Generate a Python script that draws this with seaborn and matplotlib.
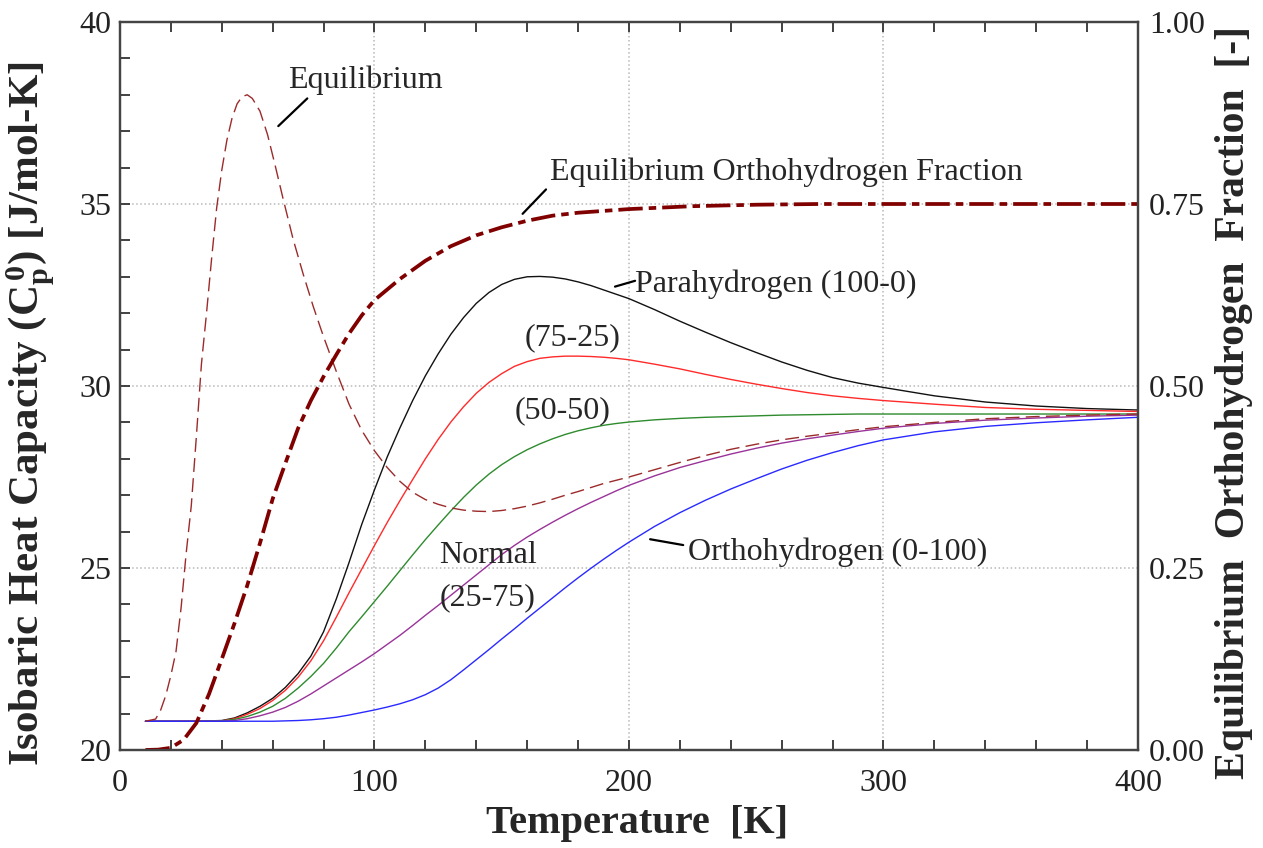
import matplotlib
matplotlib.use("Agg")
import matplotlib.pyplot as plt
import numpy as np
import pandas as pd
import seaborn as sns
from matplotlib.ticker import MultipleLocator, FormatStrFormatter

# ---------------- data ----------------
T_mix = [10, 20, 30, 40, 45, 50, 55, 60, 65, 70, 75, 80, 85, 90, 95, 100, 105, 110,
         115, 120, 125, 130, 135, 140, 145, 150, 155, 160, 165, 170, 175, 180, 185,
         190, 195, 200, 210, 220, 230, 240, 250, 260, 270, 280, 290, 300, 320, 340,
         360, 380, 400]

cp_para = [20.79, 20.79, 20.79, 20.81, 20.88, 21.02, 21.20, 21.42, 21.72, 22.10,
           22.58, 23.25, 24.15, 25.15, 26.20, 27.15, 28.05, 28.85, 29.60, 30.28,
           30.88, 31.42, 31.88, 32.27, 32.57, 32.79, 32.93, 33.00, 33.01, 32.99,
           32.94, 32.86, 32.76, 32.64, 32.52, 32.40, 32.10, 31.78, 31.48, 31.19,
           30.92, 30.66, 30.43, 30.23, 30.08, 29.96, 29.73, 29.56, 29.45, 29.38,
           29.34]
cp_7525 = [20.79, 20.79, 20.79, 20.80, 20.86, 20.98, 21.14, 21.36, 21.64, 22.00,
           22.45, 23.00, 23.65, 24.32, 24.97, 25.62, 26.25, 26.85, 27.43, 28.00,
           28.53, 29.01, 29.43, 29.80, 30.10, 30.34, 30.54, 30.67, 30.76, 30.80,
           30.82, 30.82, 30.81, 30.79, 30.76, 30.72, 30.60, 30.47, 30.32, 30.18,
           30.05, 29.93, 29.82, 29.73, 29.66, 29.60, 29.50, 29.41, 29.36, 29.33,
           29.30]
cp_5050 = [20.79, 20.79, 20.79, 20.80, 20.84, 20.92, 21.04, 21.20, 21.42, 21.70,
           22.02, 22.38, 22.80, 23.25, 23.66, 24.08, 24.50, 24.93, 25.36, 25.78,
           26.18, 26.57, 26.94, 27.28, 27.58, 27.84, 28.06, 28.25, 28.41, 28.55,
           28.67, 28.77, 28.85, 28.92, 28.97, 29.01, 29.07, 29.11, 29.14, 29.16,
           29.18, 29.20, 29.21, 29.22, 29.23, 29.23, 29.23, 29.23, 29.23, 29.23,
           29.23]
cp_normal = [20.79, 20.79, 20.79, 20.79, 20.81, 20.86, 20.94, 21.04, 21.17, 21.34,
             21.54, 21.76, 21.98, 22.20, 22.42, 22.65, 22.90, 23.15, 23.42, 23.70,
             23.97, 24.25, 24.53, 24.81, 25.09, 25.37, 25.62, 25.85, 26.06, 26.26,
             26.45, 26.63, 26.80, 26.96, 27.12, 27.27, 27.53, 27.76, 27.95, 28.13,
             28.29, 28.43, 28.55, 28.65, 28.75, 28.84, 28.97, 29.06, 29.12, 29.17,
             29.20]
cp_ortho = [20.79, 20.79, 20.79, 20.79, 20.79, 20.79, 20.79, 20.79, 20.80, 20.81,
            20.83, 20.86, 20.90, 20.96, 21.03, 21.10, 21.18, 21.27, 21.38, 21.52,
            21.70, 21.93, 22.20, 22.48, 22.76, 23.05, 23.33, 23.62, 23.90, 24.18,
            24.46, 24.73, 24.99, 25.24, 25.48, 25.71, 26.14, 26.52, 26.86, 27.17,
            27.45, 27.72, 27.96, 28.17, 28.36, 28.52, 28.74, 28.89, 28.99, 29.07,
            29.14]

T_eq = [10, 14, 16, 18, 20, 22, 24, 26, 28, 30, 32, 34, 36, 38, 40, 42, 44, 46, 48, 50,
        52, 55, 58, 61, 64, 68, 72, 76, 80, 85, 90, 95, 100, 105, 110, 115, 120, 125,
        130, 135, 140, 145, 150, 155, 160, 165, 170, 175, 180, 190, 200, 210, 220, 230,
        240, 250, 260, 270, 280, 290, 300, 320, 340, 360, 380, 400]
cp_eq = [20.79, 20.85, 21.10, 21.50, 22.05, 22.70, 23.90, 25.40, 26.70, 28.60,
         30.60, 32.00, 33.50, 34.90, 35.93, 36.75, 37.35, 37.75, 37.95, 38.00,
         37.90, 37.55, 36.90, 36.05, 35.17, 34.04, 33.07, 32.17, 31.35, 30.40,
         29.50, 28.78, 28.22, 27.76, 27.38, 27.08, 26.88, 26.75, 26.65, 26.59,
         26.56, 26.55, 26.58, 26.63, 26.70, 26.79, 26.89, 27.00, 27.10, 27.32,
         27.50, 27.70, 27.90, 28.09, 28.26, 28.40, 28.52, 28.62, 28.71, 28.80,
         28.88, 29.00, 29.10, 29.16, 29.20, 29.23]

T_frac = [10, 15, 20, 25, 30, 35, 40, 45, 50, 55, 60, 65, 70, 75, 80, 85, 90, 95, 100,
          110, 120, 130, 140, 150, 160, 170, 180, 200, 225, 250, 275, 300, 350, 400]
f_ortho_eq = [0.000, 0.0005, 0.003, 0.014, 0.037, 0.077, 0.125, 0.174, 0.226, 0.284,
              0.345, 0.394, 0.442, 0.480, 0.513, 0.543, 0.572, 0.597, 0.618, 0.647,
              0.672, 0.692, 0.707, 0.718, 0.727, 0.734, 0.738, 0.743, 0.747, 0.749,
              0.750, 0.750, 0.750, 0.750]

mix_names = ["Parahydrogen (100-0)", "(75-25)", "(50-50)", "Normal (25-75)",
             "Orthohydrogen (0-100)"]
mix_colors = ["#111111", "#ff2a2a", "#2e8b2e", "#993399", "#2a2aff"]

x_ticks = [0, 100, 200, 300, 400]
y_ticks = [20, 25, 30, 35, 40]
y2_ticks = [0.00, 0.25, 0.50, 0.75, 1.00]

# ---------------- style ----------------
sns.set_style("white")
plt.rcParams["font.family"] = ["Liberation Serif", "DejaVu Serif"]
plt.rcParams["mathtext.fontset"] = "custom"
plt.rcParams["mathtext.rm"] = "Liberation Serif:bold"
plt.rcParams["mathtext.it"] = "Liberation Serif:bold"
plt.rcParams["mathtext.bf"] = "Liberation Serif:bold"

fig = plt.figure(figsize=(12.63, 8.48), dpi=100)
ax = fig.add_axes([0.0950, 0.11557, 0.80602, 0.8585])

df = pd.DataFrame({
    "T": T_mix * 5,
    "Cp": cp_para + cp_7525 + cp_5050 + cp_normal + cp_ortho,
    "mix": sum([[n] * len(T_mix) for n in mix_names], []),
})
sns.lineplot(data=df, x="T", y="Cp", hue="mix", hue_order=mix_names,
             palette=dict(zip(mix_names, mix_colors)), estimator=None,
             legend=False, lw=1.0, ax=ax, zorder=3)

sns.lineplot(x=T_eq, y=cp_eq, color="#9b2b2b", lw=1.0, estimator=None, ax=ax, zorder=3)
ax.lines[-1].set_dashes([10, 4.5])

ax.set_xlim(0, 400)
ax.set_ylim(20, 40)
ax.set_xticks(x_ticks)
ax.set_yticks(y_ticks)
ax.xaxis.set_minor_locator(MultipleLocator(20))
ax.yaxis.set_minor_locator(MultipleLocator(1))
ax.grid(True, which="major", color="#b8b8b8", ls=":", lw=1.1)
ax.set_axisbelow(True)
ax.tick_params(which="both", direction="in", top=True, bottom=True, left=True,
               right=False, length=7, width=1.3, color="#333333")
ax.tick_params(axis="x", which="major", labelsize=23, pad=14)
ax.tick_params(axis="y", which="major", labelsize=23, pad=6)
for lab in ax.get_xticklabels() + ax.get_yticklabels():
    lab.set_color("#222222")

ax2 = ax.twinx()
sns.lineplot(x=T_frac, y=f_ortho_eq, color="#800000", lw=2.7, estimator=None, ax=ax2)
ax2.lines[-1].set_dashes([6.5, 1.6, 2.0, 1.6])
ax2.set_ylim(0, 1)
ax2.set_yticks(y2_ticks)
ax2.yaxis.set_major_formatter(FormatStrFormatter("%.2f"))
ax2.tick_params(axis="y", length=0, labelsize=23, pad=8)
for lab in ax2.get_yticklabels():
    lab.set_color("#222222")

for a in (ax, ax2):
    for s in a.spines.values():
        s.set_color("#444444")
        s.set_linewidth(1.6)

# axis labels
ax.set_xlabel("Temperature  [K]", fontsize=29, fontweight="bold")
ax.xaxis.set_label_coords(0.508, -0.075)
ax.set_ylabel(r"Isobaric Heat Capacity ($\mathrm{C_p^{\,0}}$) [J/mol-K]",
              fontsize=31, fontweight="bold")
ax.yaxis.set_label_coords(-0.062, 0.462)
ax2.set_ylabel("Equilibrium  Orthohydrogen  Fraction  [-]", fontsize=30,
               fontweight="bold")
ax2.yaxis.set_label_coords(1.076, 0.478)

# annotations
fs = 23
ax.text(66.0, 38.19, "Equilibrium", fontsize=fs, va="baseline", ha="left")
ax.text(169.0, 35.66, "Equilibrium Orthohydrogen Fraction", fontsize=fs,
        va="baseline", ha="left")
ax.text(202.4, 32.58, "Parahydrogen (100-0)", fontsize=fs, va="baseline", ha="left")
ax.text(159.1, 31.13, "(75-25)", fontsize=fs, va="baseline", ha="left")
ax.text(155.2, 29.11, "(50-50)", fontsize=fs, va="baseline", ha="left")
ax.text(144.6, 25.13, "Normal", fontsize=fs, va="baseline", ha="center")
ax.text(144.6, 23.98, "(25-75)", fontsize=fs, va="baseline", ha="center")
ax.text(223.2, 25.22, "Orthohydrogen (0-100)", fontsize=fs, va="baseline", ha="left")

leader = dict(arrowstyle="-", color="black", lw=1.6, shrinkA=0, shrinkB=0)
ax.annotate("", xy=(62.2, 37.14), xytext=(73.6, 37.90), arrowprops=leader)
ax.annotate("", xy=(158.2, 34.73), xytext=(167.4, 35.40), arrowprops=leader)
ax.annotate("", xy=(194.5, 32.73), xytext=(202.4, 32.89), arrowprops=leader)
ax.annotate("", xy=(208.3, 25.79), xytext=(221.3, 25.63), arrowprops=leader)

fig.savefig("out.png", dpi=100)
